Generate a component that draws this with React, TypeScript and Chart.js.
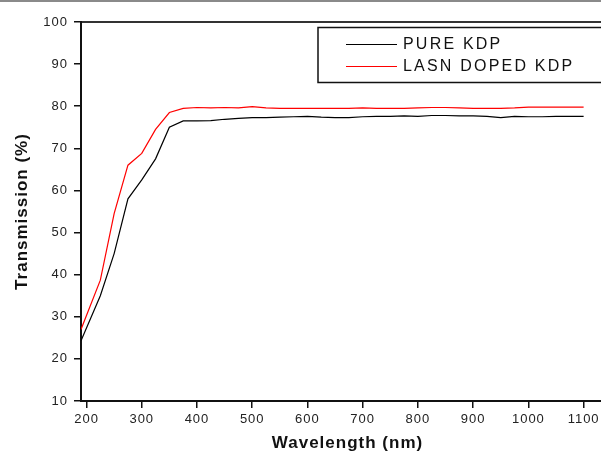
import React, { useEffect, useRef } from "react";
import { Chart, registerables } from "chart.js";

Chart.register(...registerables);

const wavelengths = [190, 225, 250, 275, 300, 325, 350, 375, 400, 425, 450, 475, 500, 525, 550, 575, 600, 625, 650, 675, 700, 725, 750, 775, 800, 825, 850, 875, 900, 925, 950, 975, 1000, 1025, 1050, 1075, 1100];
const pureKdp = [24.3, 35.0, 45.0, 58.0, 62.5, 67.5, 75.0, 76.5, 76.5, 76.6, 76.9, 77.1, 77.3, 77.3, 77.4, 77.5, 77.6, 77.4, 77.3, 77.3, 77.5, 77.6, 77.6, 77.7, 77.6, 77.8, 77.8, 77.7, 77.7, 77.6, 77.3, 77.6, 77.5, 77.5, 77.6, 77.6, 77.6];
const lasnKdp = [27.0, 38.7, 54.5, 66.0, 68.8, 74.5, 78.5, 79.5, 79.7, 79.6, 79.7, 79.6, 79.9, 79.6, 79.5, 79.5, 79.5, 79.5, 79.5, 79.5, 79.6, 79.5, 79.5, 79.5, 79.6, 79.7, 79.7, 79.6, 79.5, 79.5, 79.5, 79.6, 79.8, 79.8, 79.8, 79.8, 79.8];
const seriesLabels = ["PURE KDP", "LASN DOPED KDP"];
const xTickValues = [200, 300, 400, 500, 600, 700, 800, 900, 1000, 1100];
const xTitle = "Wavelength (nm)";
const yTitle = "Transmission (%)";

const FONT = "'Liberation Sans', Arial, Helvetica, sans-serif";

const spacingPlugin = {
  id: "spacing",
  beforeDraw(chart: any) {
    (chart.ctx as any).letterSpacing = "1px";
  },
};

const boxLegendPlugin = {
  id: "boxLegend",
  afterDraw(chart: any) {
    const ctx = chart.ctx as CanvasRenderingContext2D;
    const W = chart.width;
    ctx.save();
    ctx.strokeStyle = "#8a8a8a";
    ctx.lineWidth = 2;
    ctx.beginPath();
    ctx.moveTo(0, 1);
    ctx.lineTo(W, 1);
    ctx.stroke();
    ctx.strokeStyle = "#111";
    ctx.lineWidth = 1.5;
    ctx.beginPath();
    ctx.moveTo(W + 5, 27.5);
    ctx.lineTo(318, 27.5);
    ctx.lineTo(318, 82.5);
    ctx.lineTo(W + 5, 82.5);
    ctx.stroke();
    const rows = [44, 66];
    chart.data.datasets.forEach((ds: any, i: number) => {
      const y = rows[i];
      ctx.strokeStyle = ds.borderColor;
      ctx.lineWidth = 1.2;
      ctx.beginPath();
      ctx.moveTo(346, y + 0.5);
      ctx.lineTo(397, y + 0.5);
      ctx.stroke();
      (ctx as any).letterSpacing = "2.2px";
      ctx.fillStyle = "#111";
      ctx.font = `16px ${FONT}`;
      ctx.textAlign = "left";
      ctx.textBaseline = "middle";
      ctx.fillText(ds.label, 403, y + 1);
    });
    ctx.restore();
  },
};

export default function App() {
  const ref = useRef<HTMLCanvasElement | null>(null);
  useEffect(() => {
    document.body.style.overflow = "hidden";
    const canvas = ref.current!;
    const chart = new Chart(canvas, {
      type: "line",
      data: {
        datasets: [
          {
            label: seriesLabels[0],
            data: wavelengths.map((x, i) => ({ x, y: pureKdp[i] })),
            borderColor: "#000000",
            borderWidth: 1.2,
            pointRadius: 0,
            tension: 0,
            fill: false,
          },
          {
            label: seriesLabels[1],
            data: wavelengths.map((x, i) => ({ x, y: lasnKdp[i] })),
            borderColor: "#ff0000",
            borderWidth: 1.2,
            pointRadius: 0,
            tension: 0,
            fill: false,
          },
        ],
      },
      options: {
        animation: false,
        responsive: false,
        devicePixelRatio: 1,
        layout: { padding: 0 },
        plugins: {
          legend: { display: false },
          tooltip: { enabled: false },
          title: { display: false },
        },
        scales: {
          x: {
            type: "linear",
            position: "bottom",
            min: 190,
            max: 1155,
            afterFit: (s: any) => {
              s.height = 54;
            },
            afterBuildTicks: (s: any) => {
              s.ticks = xTickValues.map((value) => ({ value }));
            },
            grid: {
              display: true,
              drawOnChartArea: false,
              drawTicks: true,
              tickLength: 7,
              color: "#111",
              lineWidth: 1.5,
            },
            border: { display: true, color: "#111", width: 2 },
            ticks: {
              color: "#222",
              font: { family: FONT, size: 13 },
              padding: 4,
              maxRotation: 0,
              autoSkip: false,
              callback: (v: any) => String(v),
            },
            title: {
              display: true,
              text: xTitle,
              color: "#111",
              font: { family: FONT, size: 17, weight: "bold" },
              padding: { top: 0, bottom: 1 },
            },
          },
          xTop: {
            type: "linear",
            position: "top",
            min: 190,
            max: 1155,
            afterFit: (s: any) => {
              s.height = 22;
            },
            grid: { display: false },
            ticks: { display: false },
            border: { display: true, color: "#333", width: 2 },
          },
          y: {
            type: "linear",
            position: "left",
            min: 10,
            max: 100,
            afterFit: (s: any) => {
              s.width = 81;
            },
            grid: {
              display: true,
              drawOnChartArea: false,
              drawTicks: true,
              tickLength: 7,
              color: "#111",
              lineWidth: 1.5,
            },
            border: { display: true, color: "#111", width: 2 },
            ticks: {
              stepSize: 10,
              color: "#222",
              font: { family: FONT, size: 13 },
              padding: 6,
            },
            title: {
              display: true,
              text: yTitle,
              color: "#111",
              font: { family: FONT, size: 17, weight: "bold" },
              padding: { top: 12, bottom: 0 },
            },
          },
        },
      },
      plugins: [spacingPlugin, boxLegendPlugin],
    } as any);
    return () => chart.destroy();
  }, []);
  return (
    <canvas
      ref={ref}
      width={614}
      height={455}
      style={{ position: "absolute", left: 0, top: 0, width: 614, height: 455 }}
    />
  );
}
